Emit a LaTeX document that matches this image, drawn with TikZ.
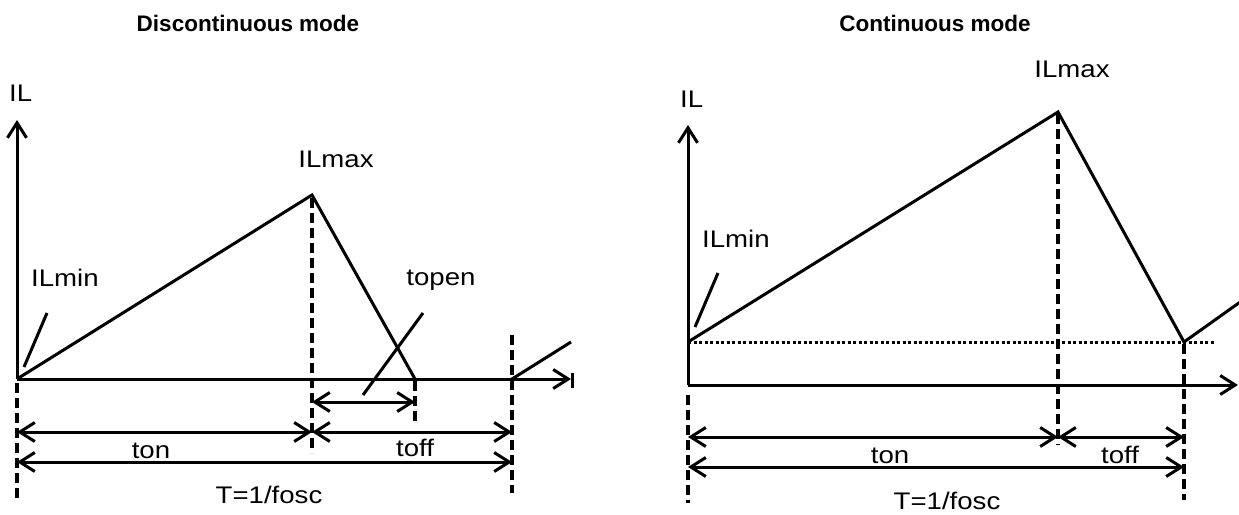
\documentclass[tikz,border=0pt]{standalone}
\usepackage{fontspec}
\setmainfont{Liberation Sans}
\newfontfamily\labfont[FakeStretch=1.15]{Liberation Sans}
\usetikzlibrary{arrows.meta}
\begin{document}
\begin{tikzpicture}[x=1pt,y=-1pt,
  curve/.style={line width=3pt, line join=miter},
  barb/.tip={Straight Barb[length=15pt,width=19pt]},
  axis/.style={line width=3pt, -barb},
  dim/.style={line width=3pt, barb-barb},
  guide/.style={line width=4pt, dash pattern=on 10pt off 5pt},
  dots/.style={line width=3pt, dash pattern=on 3pt off 2.5pt},
  lab/.style={inner sep=0pt, font=\labfont\fontsize{24}{26}\selectfont},
  ttl/.style={inner sep=0pt, font=\bfseries\fontsize{22.5}{26}\selectfont}]
\useasboundingbox (0,0) rectangle (1239,514);

% ---------------- Left: discontinuous mode ----------------
\coordinate (LO) at (17,379);
\coordinate (LYt) at (17,120);
\coordinate (LXt) at (571,379);
\coordinate (Lpk) at (312,195);
\coordinate (Lz) at (415,379);
\coordinate (LT) at (512,379);
\coordinate (Lnext) at (571,342);
\coordinate (Lbar1) at (572,373);
\coordinate (Lbar2) at (572,388);

\draw[axis] (LO) -- (LYt);
\draw[axis] (LO) -- (LXt);
\draw[line width=3pt] (Lbar1) -- (Lbar2);
\draw[curve] (LO) -- (Lpk) -- (Lz);
\draw[curve] (LT) -- (Lnext);

\coordinate (Lg0a) at (17,383);  \coordinate (Lg0b) at (17,498);
\coordinate (Lg1a) at (312,198); \coordinate (Lg1b) at (312,453);
\coordinate (Lg2a) at (415,381); \coordinate (Lg2b) at (415,422);
\coordinate (Lg3a) at (512,335); \coordinate (Lg3b) at (512,493);
\draw[guide] (Lg0a) -- (Lg0b);
\draw[guide] (Lg1a) -- (Lg1b);
\draw[guide] (Lg2a) -- (Lg2b);
\draw[guide] (Lg3a) -- (Lg3b);

\coordinate (Lp1a) at (24,367);  \coordinate (Lp1b) at (47,313);
\coordinate (Lp2a) at (363,395); \coordinate (Lp2b) at (423,313);
\draw[curve] (Lp1a) -- (Lp1b);
\draw[curve] (Lp2a) -- (Lp2b);

\coordinate (Lda) at (312,402); \coordinate (Ldb) at (415,402);
\coordinate (Lta) at (17,432);  \coordinate (Ltb) at (312,432); \coordinate (Ltc) at (512,432);
\coordinate (LTa) at (17,462);  \coordinate (LTb) at (512,462);
\draw[dim] (Lda) -- (Ldb);
\draw[dim] (Lta) -- (Ltb);
\draw[dim] (Ltb) -- (Ltc);
\draw[dim] (LTa) -- (LTb);

\node[ttl, anchor=base] (Ltitle) at (248,31) {Discontinuous mode};
\node[lab, anchor=base west] (LIL) at (9,101) {IL};
\node[lab, anchor=base west] (LILmin) at (31,286) {ILmin};
\node[lab, anchor=base] (LILmax) at (336,167) {ILmax};
\node[lab, anchor=base] (Ltopen) at (441,285) {topen};
\node[lab, anchor=base] (Lton) at (151,458) {ton};
\node[lab, anchor=base] (Ltoff) at (415,456) {toff};
\node[lab, anchor=base] (LTT) at (269,503) {T=1/fosc};

% ---------------- Right: continuous mode ----------------
\coordinate (RO) at (688,385);
\coordinate (RYt) at (688,125);
\coordinate (RXt) at (1238,385);
\coordinate (Rst) at (688,342);
\coordinate (Rpk) at (1058,112);
\coordinate (Rv) at (1184,342);
\coordinate (Rnext) at (1250,295);
\coordinate (Rdot) at (1215,342);

\draw[axis] (RO) -- (RYt);
\draw[axis] (RO) -- (RXt);
\draw[dots] (Rst) -- (Rdot);
\draw[curve] (Rst) -- (Rpk) -- (Rv) -- (Rnext);

\coordinate (Rg0a) at (688,395);  \coordinate (Rg0b) at (688,503);
\coordinate (Rg1a) at (1058,114); \coordinate (Rg1b) at (1058,445);
\coordinate (Rg2a) at (1184,344); \coordinate (Rg2b) at (1184,500);
\draw[guide] (Rg0a) -- (Rg0b);
\draw[guide] (Rg1a) -- (Rg1b);
\draw[guide] (Rg2a) -- (Rg2b);

\coordinate (Rp1a) at (695,327); \coordinate (Rp1b) at (718,273);
\draw[curve] (Rp1a) -- (Rp1b);

\coordinate (Rta) at (688,437);  \coordinate (Rtb) at (1058,437); \coordinate (Rtc) at (1184,437);
\coordinate (RTa) at (688,467);  \coordinate (RTb) at (1184,467);
\draw[dim] (Rta) -- (Rtb);
\draw[dim] (Rtb) -- (Rtc);
\draw[dim] (RTa) -- (RTb);

\node[ttl, anchor=base] (Rtitle) at (935,31) {Continuous mode};
\node[lab, anchor=base west] (RIL) at (680,107) {IL};
\node[lab, anchor=base west] (RILmin) at (702,247) {ILmin};
\node[lab, anchor=base] (RILmax) at (1072,77) {ILmax};
\node[lab, anchor=base] (Rton) at (890,463) {ton};
\node[lab, anchor=base] (Rtoff) at (1120,463) {toff};
\node[lab, anchor=base] (RTT) at (947,509) {T=1/fosc};
\end{tikzpicture}
\end{document}
